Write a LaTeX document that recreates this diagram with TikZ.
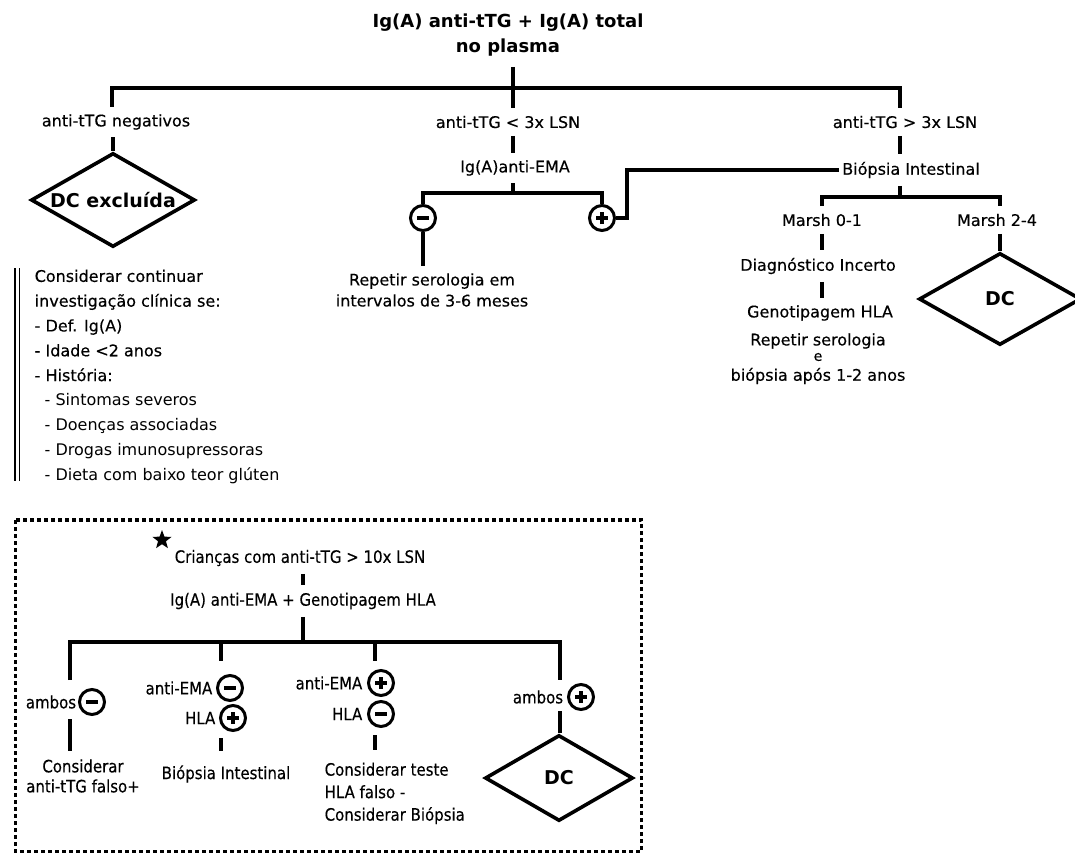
\documentclass[tikz,border=0pt]{standalone}
\usepackage{fontspec}
\setmainfont{DejaVu Sans}
\newfontfamily\medfont[FakeBold=0.35]{DejaVu Sans}
\newfontfamily\condfont[FakeStretch=0.88, FakeBold=0.35]{DejaVu Sans}
\usetikzlibrary{shapes.geometric}
\begin{document}
\begin{tikzpicture}[x=1pt,y=-1pt, line width=3.4pt,
  txt/.style={font=\medfont\fontsize{16}{19}\selectfont, inner xsep=2pt, inner ysep=6pt},
  ctxt/.style={font=\condfont\fontsize{17}{20}\selectfont, inner xsep=2pt, inner ysep=6pt},
  dia/.style={draw, diamond, inner sep=0pt, line width=3.6pt},
  dclab/.style={font=\bfseries\fontsize{19}{22}\selectfont},
  sgn/.style={circle, draw, line width=3pt, minimum size=25pt, inner sep=0pt},
  sgnminus/.style={sgn, path picture={\draw[line width=3.4pt] ([xshift=-6pt]path picture bounding box.center) -- ([xshift=6pt]path picture bounding box.center);}},
  sgnplus/.style={sgn, path picture={\draw[line width=3.4pt] ([xshift=-6pt]path picture bounding box.center) -- ([xshift=6pt]path picture bounding box.center);
      \draw[line width=3.4pt] ([yshift=-6pt]path picture bounding box.center) -- ([yshift=6pt]path picture bounding box.center);}},
]
\useasboundingbox (0,0) rectangle (1075,854);

% ---------- top part ----------
\node[font=\bfseries\fontsize{18}{25}\selectfont, align=center, inner xsep=2pt, inner ysep=9pt] (title) at (508,35) {Ig(A) anti-tTG + Ig(A) total\\no plasma};

\node[txt] (L1) at (116,122) {anti-tTG negativos};
\node[txt] (L2) at (508,122) {anti-tTG < 3x LSN};
\node[txt] (L3) at (905,122) {anti-tTG > 3x LSN};

\coordinate (busL) at (112,88);
\coordinate (busM) at (513,88);
\coordinate (busR) at (900,88);
\draw (title.south -| busM) -- (L2.north -| busM);
\draw (busL |- L1.north) -- (busL) -- (busR) -- (busR |- L3.north);

% left branch
\node[dia, minimum width=164pt, minimum height=94pt, label={[dclab]center:DC excluída}] (D1) at (113,200) {};
\draw (L1.south -| D1.north) -- (D1.north);

% middle branch
\node[txt] (E) at (515,168) {Ig(A)anti-EMA};
\coordinate (eb) at (513,193);
\draw (L2.south -| eb) -- (E.north -| eb);
\draw (E.south -| eb) -- (eb);
\node[sgnminus] (M1) at (423,218) {};
\node[sgnplus] (P1) at (602,218) {};
\draw (M1.north) |- (eb) -| (P1.north);
\node[txt, align=center, font=\medfont\fontsize{16}{21}\selectfont] (R1) at (432,290) {Repetir serologia em\\intervalos de 3-6 meses};
\draw (M1.south) -- (M1.south |- R1.north);

% right branch
\node[txt] (B) at (911,170) {Biópsia Intestinal};
\coordinate (pk) at (627,218);
\draw (P1.east) -- (pk) |- (B.west);
\coordinate (bb) at (900,197);
\draw (L3.south -| bb) -- (B.north -| bb);
\draw (B.south -| bb) -- (bb);
\node[txt] (K1) at (822,220) {Marsh 0-1};
\node[txt] (K2) at (997,220) {Marsh 2-4};
\coordinate (k1) at (822,197);
\coordinate (k2) at (1000,197);
\draw (k1 |- K1.north) -- (k1) -- (k2) -- (k2 |- K2.north);
\node[txt] (DI) at (818,266) {Diagnóstico Incerto};
\draw (K1.south -| k1) -- (DI.north -| k1);
\node[txt] (G) at (820,313) {Genotipagem HLA};
\draw (DI.south -| k1) -- (G.north -| k1);
\node[txt] (rs1) at (818,341) {Repetir serologia};
\node[txt, font=\medfont\fontsize{14}{16}\selectfont] (rs2) at (818,357) {e};
\node[txt] (rs3) at (818,376) {biópsia após 1-2 anos};
\node[dia, minimum width=162pt, minimum height=92pt, label={[dclab]center:DC}] (D2) at (1000,299) {};
\draw (K2.south -| k2) -- (D2.north);

% left note
\draw[line width=1.8pt] (15,268) -- (15,481);
\draw[line width=1.8pt] (19.5,268) -- (19.5,481);
\node[anchor=north west, inner sep=0pt, align=left, font=\fontsize{16}{24.8}\selectfont] (note) at (33,268) {{\medfont Considerar continuar}\\{\medfont investigação clínica se:}\\{\medfont - Def. Ig(A)}\\{\medfont - Idade <2 anos}\\{\medfont - História:}\\\hspace*{10pt}- Sintomas severos\\\hspace*{10pt}- Doenças associadas\\\hspace*{10pt}- Drogas imunosupressoras\\\hspace*{10pt}- Dieta com baixo teor glúten};

% ---------- bottom box ----------
\draw[line width=3.5pt, dash pattern=on 4pt off 3pt] (15.5,520) rectangle (641.5,851.5);
\node[star, star points=5, star point ratio=2.4, fill=black, inner sep=0pt, minimum size=20pt] (st) at (162,540) {};
\node[ctxt] (C1) at (300,558) {Crianças com anti-tTG > 10x LSN};
\node[ctxt] (C2) at (303,601) {Ig(A) anti-EMA + Genotipagem HLA};
\coordinate (cx) at (303,600);
\draw (C1.south -| cx) -- (C2.north -| cx);
\coordinate (cb) at (303,642);
\draw (C2.south -| cb) -- (cb);
\coordinate (b1) at (70,642);
\coordinate (b2) at (221,642);
\coordinate (b3) at (375,642);
\coordinate (b4) at (560,642);
\coordinate (e1) at (70,680);
\coordinate (e2) at (221,661);
\coordinate (e3) at (375,661);
\coordinate (e4) at (560,680);
\draw (e1) -- (b1) -- (b4) -- (e4);
\draw (b2) -- (e2);
\draw (b3) -- (e3);

% group 1
\node[ctxt] (A1) at (51,702) {ambos};
\node[sgnminus] (M4) at (92,702) {};
\node[ctxt, align=center] (CF) at (83,776) {Considerar\\anti-tTG falso+};
\draw[shorten <=3pt, shorten >=1pt] (b1 |- A1.south) -- (b1 |- CF.north);

% group 2
\node[ctxt, anchor=east] (X2a) at (216,688) {anti-EMA};
\node[sgnminus] (M2) at (230,688) {};
\node[ctxt, anchor=east] (X2b) at (219,718) {HLA};
\node[sgnplus] (P2) at (233,718) {};
\node[ctxt] (Bi2) at (226,774) {Biópsia Intestinal};
\draw[shorten <=6pt, shorten >=7pt] (P2.south -| b2) -- (Bi2.north -| b2);

% group 3
\node[ctxt, anchor=east] (X3a) at (366,683) {anti-EMA};
\node[sgnplus] (P3) at (381,683) {};
\node[ctxt, anchor=east] (X3b) at (366,714) {HLA};
\node[sgnminus] (M3) at (381,714) {};
\node[anchor=north west, inner sep=0pt, align=left, font=\condfont\fontsize{17}{22.5}\selectfont] (T3) at (323,761) {Considerar teste\\HLA falso -\\Considerar Biópsia};
\draw[shorten <=7pt, shorten >=11pt] (M3.south -| b3) -- (T3.north -| b3);

% group 4
\node[ctxt] (A4) at (538,697) {ambos};
\node[sgnplus] (P4) at (581,697) {};
\node[dia, minimum width=148pt, minimum height=86pt, label={[dclab]center:DC}] (D3) at (559,778) {};
\draw (b4 |- A4.south) -- (D3.north -| b4);
\end{tikzpicture}
\end{document}
